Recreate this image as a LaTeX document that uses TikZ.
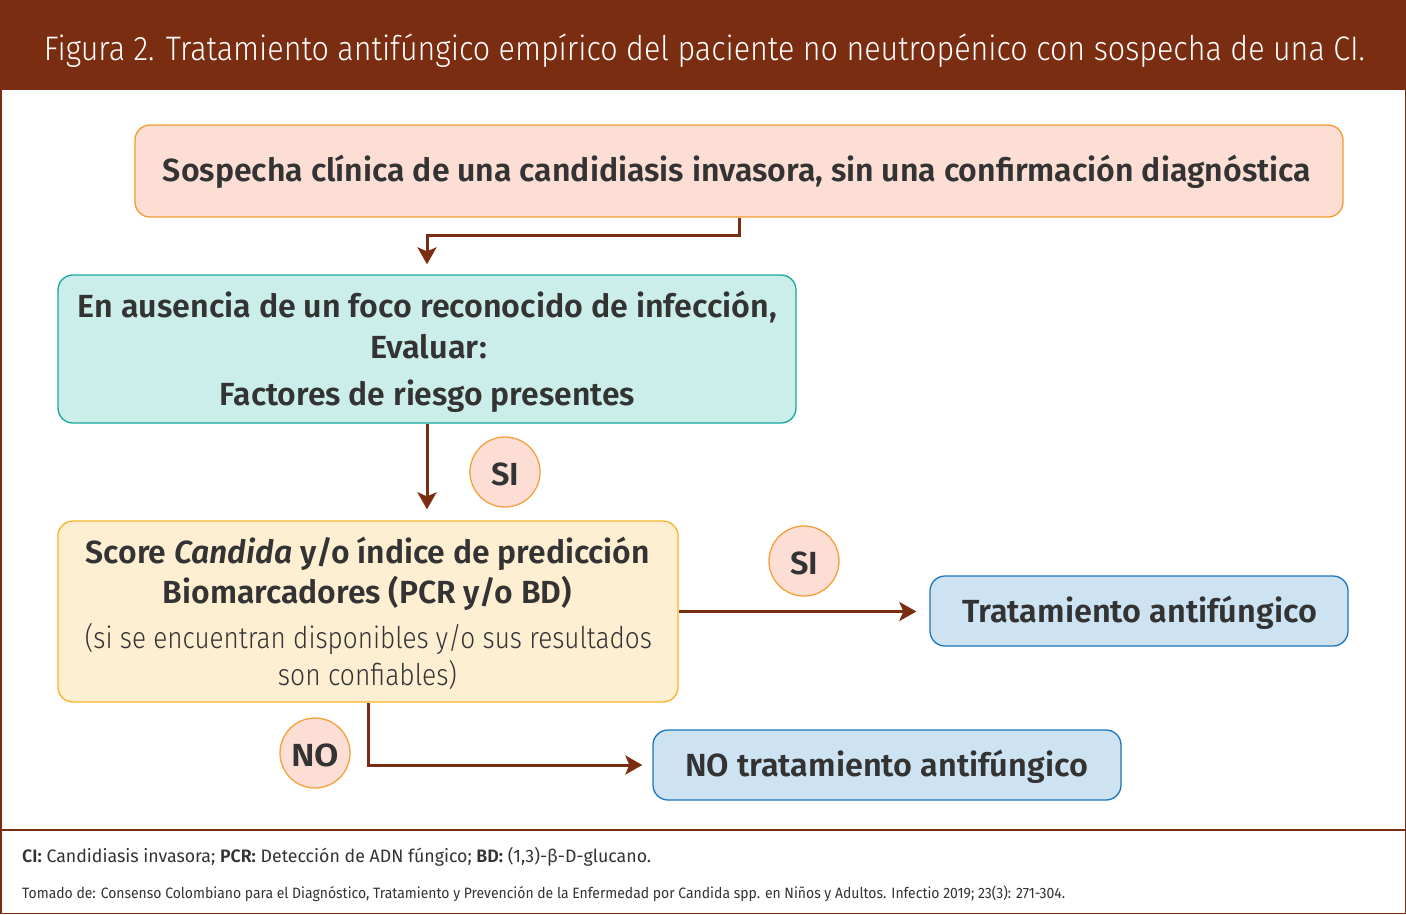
\documentclass[tikz,border=0pt]{standalone}
\usepackage{fontspec}
\setmainfont{Fira Sans}[BoldFont={Fira Sans SemiBold},BoldItalicFont={Fira Sans SemiBold Italic}]
\newfontfamily\lightf{Fira Sans Light}
\usetikzlibrary{arrows.meta,calc}
\definecolor{brn}{HTML}{7B2D12}
\definecolor{txt}{HTML}{333333}
\definecolor{f1}{HTML}{FCDED4}\definecolor{d1}{HTML}{F39A2E}
\definecolor{f2}{HTML}{CCEEEA}\definecolor{d2}{HTML}{14A89E}
\definecolor{f3}{HTML}{FEEFD3}\definecolor{d3}{HTML}{F7B526}
\definecolor{f4}{HTML}{CDE3F2}\definecolor{d4}{HTML}{1D75BC}
\definecolor{dc}{HTML}{F5A03A}
\newcommand\fw[2]{\resizebox{#1pt}{\height}{#2}}
\begin{document}
\begin{tikzpicture}[x=1pt,y=-1pt,
  boxbase/.style={rectangle,rounded corners=15pt,line width=1.3pt,inner sep=0pt},
  bxa/.style={boxbase,fill=f1,draw=d1},
  bxb/.style={boxbase,fill=f2,draw=d2},
  bxc/.style={boxbase,fill=f3,draw=d3},
  bxd/.style={boxbase,fill=f4,draw=d4},
  circ/.style={circle,fill=f1,draw=dc,line width=1.3pt,minimum size=70pt,inner sep=0pt},
  lbl/.style={anchor=base,inner sep=0pt,text=txt,font=\fontsize{32}{36}\selectfont\bfseries},
  lt/.style={anchor=base,inner sep=0pt,text=txt,font=\fontsize{30}{36}\selectfont\lightf},
  arr/.style={draw=brn,line width=3pt,-{Stealth[length=17pt,width=19pt,inset=4pt]}}]
\useasboundingbox (0,0) rectangle (1406,914);
% frame
\fill[brn] (0,0) rectangle (1406,90);
\draw[brn,line width=1.5pt] (0.75,90) -- (0.75,913.25) -- (1405.25,913.25) -- (1405.25,90);
\draw[brn,line width=1.5pt] (0,830) -- (1406,830);
\node[anchor=base,inner sep=0pt,text=white,font=\fontsize{34}{40}\selectfont\lightf] (title) at (704.5,60)
  {\fw{1321}{Figura 2. Tratamiento antifúngico empírico del paciente no neutropénico con sospecha de una CI.}};
% boxes
\node[bxa,minimum width=1208pt,minimum height=92pt] (b1) at (739,171) {};
\node[bxb,minimum width=738pt,minimum height=148pt] (b2) at (427,349) {};
\node[bxc,minimum width=620pt,minimum height=181pt] (b3) at (368,611.5) {};
\node[bxd,minimum width=418pt,minimum height=70pt] (b4) at (1139,611) {};
\node[bxd,minimum width=468pt,minimum height=70pt] (b5) at (887,765) {};
% texts
\node[lbl] (t1) at (737,181) {\fw{1148}{Sospecha clínica de una candidiasis invasora, sin una confirmación diagnóstica}};
\node[lbl] (t2a) at (427.5,317) {\fw{699}{En ausencia de un foco reconocido de infección,}};
\node[lbl] (t2b) at (428.5,358) {\fw{117}{Evaluar:}};
\node[lbl] (t2c) at (427.5,405) {\fw{415}{Factores de riesgo presentes}};
\node[lbl] (t3a) at (368,563) {\fw{564}{Score \textit{Candida} y/o índice de predicción}};
\node[lbl] (t3b) at (367.5,603) {\fw{409}{Biomarcadores (PCR y/o BD)}};
\node[lt] (t3c) at (368.5,648) {\fw{567}{(si se encuentran disponibles y/o sus resultados}};
\node[lt] (t3d) at (367.5,685) {\fw{179}{son confiables)}};
\node[lbl] (t4) at (1139.5,622) {\fw{355}{Tratamiento antifúngico}};
\node[lbl] (t5) at (886.5,776) {\fw{403}{NO tratamiento antifúngico}};
% circles
\node[circ] (c1) at (505,472) {};
\node[lbl] (s1) at (505,485) {\fw{28}{SI}};
\node[circ] (c2) at (804,561) {};
\node[lbl] (s2) at (804,574) {\fw{28}{SI}};
\node[circ] (c3) at (315,753) {};
\node[lbl] (s3) at (315,766) {\fw{48}{NO}};
% connectors
\draw[arr] (b1.south) -- ++(0,18) -| ([yshift=10pt]b2.north);
\draw[arr] (b2.south) -- ([yshift=11pt]b2.south |- b3.north);
\draw[arr,shorten >=13pt] (b3.east) -- (b3.east -| b4.west);
\draw[arr,shorten >=10pt] (b3.south) |- (b5.west);
% footer
\node[anchor=base west,inner sep=0pt,text=txt,font=\fontsize{18}{22}\selectfont] (n1) at (22,862)
  {\fw{629}{\textbf{CI:} Candidiasis invasora; \textbf{PCR:} Detección de ADN fúngico; \textbf{BD:} (1,3)-β-D-glucano.}};
\node[anchor=base west,inner sep=0pt,text=txt,font=\fontsize{15}{18}\selectfont] (n2) at (22,898)
  {\fw{1043}{Tomado de: Consenso Colombiano para el Diagnóstico, Tratamiento y Prevención de la Enfermedad por Candida spp. en Niños y Adultos. Infectio 2019; 23(3): 271-304.}};
\end{tikzpicture}
\end{document}
